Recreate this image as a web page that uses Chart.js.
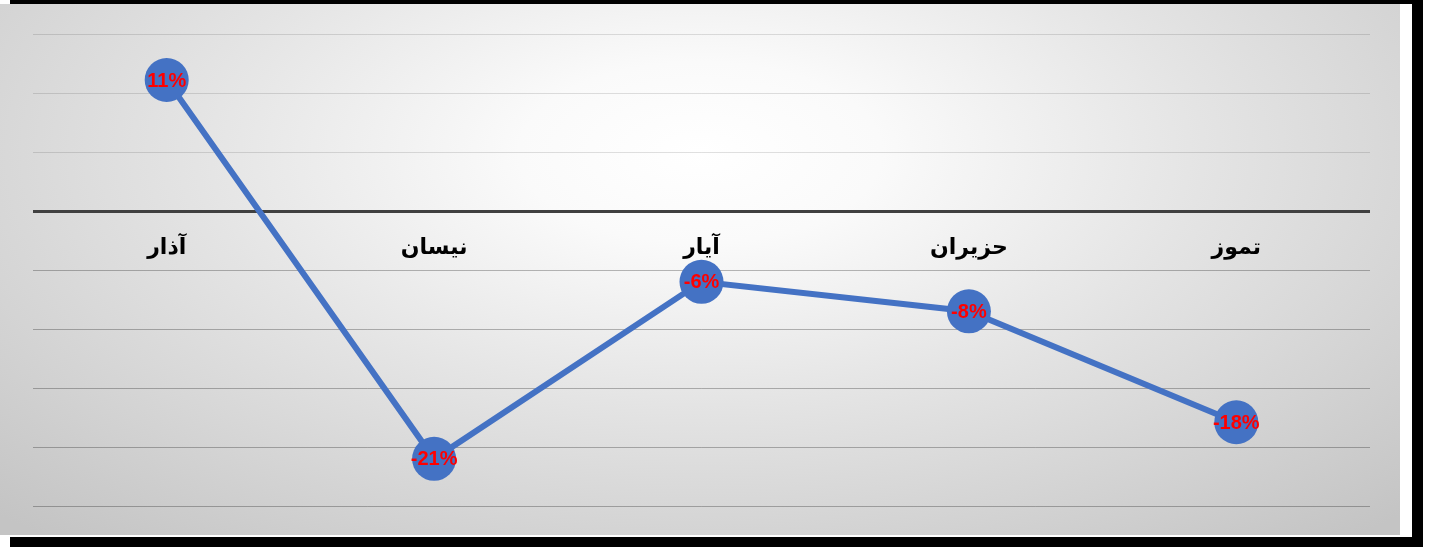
<!DOCTYPE html>
<html>
<head>
<meta charset="utf-8">
<script src="https://cdn.jsdelivr.net/npm/chart.js@4"></script>
<style>
  html, body { margin: 0; padding: 0; background: #fff; width: 1429px; height: 548px; overflow: hidden; }
  #shadow { position: absolute; left: 10px; top: 0; width: 1413px; height: 547px; background: #000; }
  #white { position: absolute; left: 0; top: 4px; width: 1412px; height: 533px; background: #fff; }
  #panel { position: absolute; left: 0; top: 4px; width: 1400px; height: 531px;
    background: radial-gradient(ellipse 72% 95% at 50% 28%, #ffffff 0%, #fafafa 18%, #e4e4e4 50%, #c4c4c4 100%); }
  #wrap { position: absolute; left: 0; top: 0; width: 1429px; height: 548px; }
</style>
</head>
<body>
<div id="shadow"></div>
<div id="white"></div>
<div id="panel"></div>
<div id="wrap"><canvas id="c" width="1429" height="548"></canvas></div>
<script>
const categories = ["آذار", "نيسان", "آيار", "حزيران", "تموز"];
const values = [11.1, -21, -6, -8.5, -17.9];
const valueLabels = ["11%", "-21%", "-6%", "-8%", "-18%"];

const dataLabelPlugin = {
  id: 'dataLabels',
  afterDatasetsDraw(chart) {
    const ctx = chart.ctx;
    const meta = chart.getDatasetMeta(0);
    ctx.save();
    ctx.font = 'bold 20px "Liberation Sans", Arial, sans-serif';
    ctx.fillStyle = '#ff0000';
    ctx.textAlign = 'center';
    ctx.textBaseline = 'middle';
    meta.data.forEach((pt, i) => {
      ctx.fillText(valueLabels[i], pt.x, pt.y + 1);
    });
    ctx.restore();
  }
};

new Chart(document.getElementById('c'), {
  type: 'line',
  data: {
    labels: categories,
    datasets: [{
      data: values,
      borderColor: '#4472C4',
      backgroundColor: '#4472C4',
      borderWidth: 6,
      pointRadius: 22,
      pointHoverRadius: 22,
      pointBackgroundColor: '#4472C4',
      pointBorderColor: '#4472C4',
      pointBorderWidth: 0,
      tension: 0,
      fill: false
    }]
  },
  options: {
    responsive: false,
    animation: false,
    events: [],
    layout: { padding: { left: 33, right: 59, top: 34, bottom: 42 } },
    plugins: { legend: { display: false }, tooltip: { enabled: false } },
    scales: {
      x: {
        position: { y: 0 },
        offset: true,
        grid: { display: false, drawTicks: false },
        border: { display: false },
        ticks: {
          padding: 24,
          color: '#000',
          font: { family: '"DejaVu Sans", sans-serif', size: 22, weight: 'bold' }
        }
      },
      y: {
        min: -25,
        max: 15,
        afterFit(s) { s.width = 0; },
        ticks: { display: false, stepSize: 5 },
        border: { display: false },
        grid: {
          drawTicks: false,
          color(ctx) {
            const v = ctx.tick ? ctx.tick.value : 0;
            if (v === 0) return '#404040';
            return v > 0 ? 'rgba(0,0,0,0.12)' : 'rgba(0,0,0,0.27)';
          },
          lineWidth(ctx) {
            return (ctx.tick && ctx.tick.value === 0) ? 3 : 1;
          }
        }
      }
    }
  },
  plugins: [dataLabelPlugin]
});
</script>
</body>
</html>
